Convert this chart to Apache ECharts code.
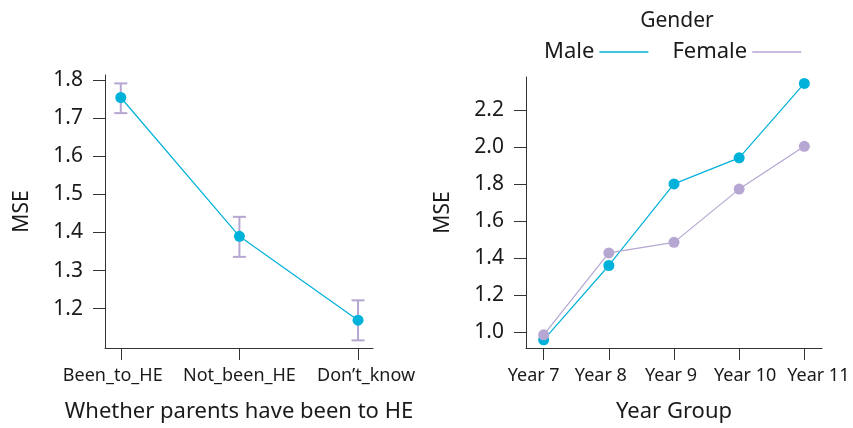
<!DOCTYPE html>
<html>
<head>
<meta charset="utf-8">
<script src="https://cdn.jsdelivr.net/npm/echarts@6/dist/echarts.min.js"></script>
<style>
html,body{margin:0;padding:0;background:#fff;}
#c{width:853px;height:428px;}
</style>
</head>
<body>
<div id="c"></div>
<script>
// Left panel data
const parentCats = ['Been_to_HE', 'Not_been_HE', 'Don\u2019t_know'];
const parentMSE = [1.754, 1.390, 1.170];
const parentLow = [1.713, 1.336, 1.117];
const parentHigh = [1.791, 1.441, 1.222];
const leftTicks = [1.2, 1.3, 1.4, 1.5, 1.6, 1.7, 1.8];

// Right panel data
const yearCats = ['Year 7', 'Year 8', 'Year 9', 'Year 10', 'Year 11'];
const maleMSE = [0.957, 1.359, 1.800, 1.941, 2.343];
const femaleMSE = [0.984, 1.427, 1.484, 1.772, 2.003];
const rightTicks = [1.0, 1.2, 1.4, 1.6, 1.8, 2.0, 2.2];

const CYAN = '#00b1d9';
const LAV = '#b5a6d2';
const FONT = 'Noto Sans';
const TXT = '#1a1a1a';
const AX = '#333';

// horizontal label nudges (styling only), in px
const leftLabelShift = [-8, 0, 8];
const rightLabelShift = [-10, -8, -3, 6, 14];

const chart = echarts.init(document.getElementById('c'), null, {renderer: 'canvas'});

function xAxisCfg(gridIndex, cats, shifts, name, nameGap) {
  const rich = {};
  shifts.forEach((s, i) => {
    rich['s' + i] = {fontFamily: FONT, fontSize: 18, color: TXT,
      padding: s < 0 ? [0, -2 * s, 0, 0] : [0, 0, 0, 2 * s]};
  });
  return {
    type: 'value', gridIndex: gridIndex,
    min: gridIndex === 0 ? -0.133 : -0.271,
    max: gridIndex === 0 ? 2.126 : 4.271,
    name: name, nameLocation: 'middle', nameGap: nameGap,
    nameTextStyle: {fontFamily: FONT, fontSize: 22, color: TXT},
    axisLine: {show: true, onZero: false, lineStyle: {color: AX, width: 1}},
    axisTick: {show: true, length: 12, lineStyle: {color: AX}, customValues: cats.map((c, i) => i)},
    axisLabel: {show: true, margin: 19, fontFamily: FONT, fontSize: 18, color: TXT,
      customValues: cats.map((c, i) => i), rich: rich,
      formatter: v => { const i = Math.round(v); return cats[i] ? '{s' + i + '|' + cats[i] + '}' : ''; }},
    splitLine: {show: false}
  };
}
function yAxisCfg(gridIndex, min, max, ticks) {
  return {
    type: 'value', gridIndex: gridIndex, min: min, max: max,
    name: 'MSE', nameLocation: 'middle', nameGap: 72,
    nameTextStyle: {fontFamily: FONT, fontSize: 21, color: TXT},
    axisLine: {show: true, onZero: false, lineStyle: {color: AX, width: 1}},
    axisTick: {show: true, length: 12, lineStyle: {color: AX}, customValues: ticks},
    axisLabel: {show: true, margin: 22, fontFamily: FONT, fontSize: 21, color: TXT,
      customValues: ticks, formatter: v => v.toFixed(1)},
    splitLine: {show: false}
  };
}

const option = {
  animation: false,
  backgroundColor: '#fff',
  textStyle: {fontFamily: FONT},
  grid: [
    {left: 105, top: 75, width: 268, height: 275},
    {left: 526, top: 77, width: 296, height: 273}
  ],
  xAxis: [
    xAxisCfg(0, parentCats, leftLabelShift, 'Whether parents have been to HE', 53),
    xAxisCfg(1, yearCats, rightLabelShift, 'Year Group', 53)
  ],
  yAxis: [
    yAxisCfg(0, 1.097, 1.813, leftTicks),
    yAxisCfg(1, 0.913, 2.378, rightTicks)
  ],
  legend: {
    left: 539, top: 36, align: 'right', icon: 'rect',
    itemWidth: 49, itemHeight: 1.3, itemGap: 24,
    textStyle: {fontFamily: FONT, fontSize: 22, color: TXT},
    data: ['Male', 'Female']
  },
  graphic: [{
    type: 'text', x: 677, y: 21,
    style: {text: 'Gender', align: 'center', verticalAlign: 'middle', fontFamily: FONT, fontSize: 21, fill: TXT}
  }],
  series: [
    {
      type: 'custom', xAxisIndex: 0, yAxisIndex: 0, z: 1,
      data: parentCats.map((c, i) => [i, parentLow[i], parentHigh[i]]),
      renderItem: function (params, api) {
        const x = api.value(0);
        const lo = api.coord([x, api.value(1)]);
        const hi = api.coord([x, api.value(2)]);
        const hw = 6.5;
        const st = {stroke: LAV, lineWidth: 2, fill: null};
        return {type: 'group', children: [
          {type: 'line', shape: {x1: lo[0], y1: lo[1], x2: hi[0], y2: hi[1]}, style: st},
          {type: 'line', shape: {x1: lo[0] - hw, y1: lo[1], x2: lo[0] + hw, y2: lo[1]}, style: st},
          {type: 'line', shape: {x1: hi[0] - hw, y1: hi[1], x2: hi[0] + hw, y2: hi[1]}, style: st}
        ]};
      }
    },
    {
      type: 'line', xAxisIndex: 0, yAxisIndex: 0, z: 3,
      data: parentMSE.map((v, i) => [i, v]),
      symbol: 'circle', symbolSize: 11,
      itemStyle: {color: CYAN}, lineStyle: {color: CYAN, width: 1.2}
    },
    {
      name: 'Male', type: 'line', xAxisIndex: 1, yAxisIndex: 1, z: 2,
      data: maleMSE.map((v, i) => [i, v]),
      symbol: 'circle', symbolSize: 11,
      itemStyle: {color: CYAN}, lineStyle: {color: CYAN, width: 1.2}
    },
    {
      name: 'Female', type: 'line', xAxisIndex: 1, yAxisIndex: 1, z: 3,
      data: femaleMSE.map((v, i) => [i, v]),
      symbol: 'circle', symbolSize: 11,
      itemStyle: {color: LAV}, lineStyle: {color: LAV, width: 1.2}
    }
  ]
};
chart.setOption(option);
</script>
</body>
</html>
